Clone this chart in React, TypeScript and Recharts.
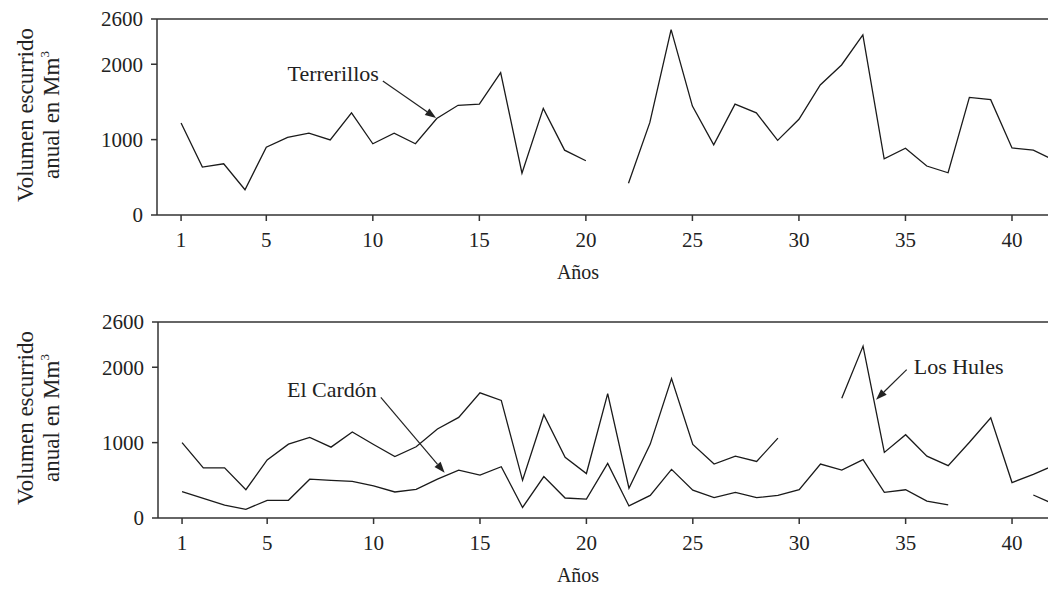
import React from "react";
import { LineChart, Line, XAxis, YAxis, ReferenceLine } from "recharts";

// Años (eje x)
const years = [
  1, 2, 3, 4, 5, 6, 7, 8, 9, 10, 11, 12, 13, 14, 15, 16, 17, 18, 19, 20, 21,
  22, 23, 24, 25, 26, 27, 28, 29, 30, 31, 32, 33, 34, 35, 36, 37, 38, 39, 40, 41, 42,
];

// Volumen escurrido anual (Mm3)
const terrerillos = [
  1220, 635, 680, 335, 900, 1030, 1085, 995, 1355, 945, 1085, 945, 1280, 1455, 1470, 1890,
  555, 1415, 860, 720, null, 420, 1225, 2460, 1445, 930, 1470, 1355, 990, 1270, 1725, 1990,
  2390, 745, 885, 650, 560, 1560, 1530, 890, 860, 725,
];
const losHules = [
  1000, 665, 665, 375, 770, 980, 1070, 940, 1140, 975, 815, 945, 1180, 1335, 1660, 1560,
  500, 1370, 805, 590, 1650, 395, 980, 1850, 975, 715, 820, 750, 1060, null, null, 1590,
  2280, 870, 1105, 820, 695, 1005, 1330, 470, 580, 700,
];
const elCardon = [
  350, 260, 170, 115, 235, 235, 515, 500, 485, 425, 345, 380, 515, 635, 570, 680, 140, 550,
  265, 250, 725, 160, 300, 645, 370, 270, 340, 270, 300, 375, 715, 635, 775, 340, 375, 225,
  175, null, null, null, 305, 180,
];

const xTicks = [1, 5, 10, 15, 20, 25, 30, 35, 40];
const yTicks = [0, 1000, 2000, 2600];

const topData = years.map((year, i) => ({ year, terrerillos: terrerillos[i] }));
const bottomData = years.map((year, i) => ({
  year,
  losHules: losHules[i],
  elCardon: elCardon[i],
}));

const FONT = "'Liberation Serif', 'DejaVu Serif', serif";
const INK = "#222";
const X_DOMAIN = [-0.13, 41.69];

// flecha con texto para las anotaciones
const arrowShape =
  (text: string, side: "left" | "right") =>
  (props: any) => {
    const { x1, y1, x2, y2 } = props;
    const ang = Math.atan2(y2 - y1, x2 - x1);
    const len = 11;
    const half = 4;
    const bx = x2 - len * Math.cos(ang);
    const by = y2 - len * Math.sin(ang);
    const p1 = `${bx + half * Math.sin(ang)},${by - half * Math.cos(ang)}`;
    const p2 = `${bx - half * Math.sin(ang)},${by + half * Math.cos(ang)}`;
    return (
      <g>
        <line x1={x1} y1={y1} x2={bx} y2={by} stroke={INK} strokeWidth={1.2} />
        <polygon points={`${x2},${y2} ${p1} ${p2}`} fill={INK} />
        <text
          x={side === "left" ? x1 - 4 : x1 + 7}
          y={side === "left" ? y1 : y1 + 4}
          textAnchor={side === "left" ? "end" : "start"}
          fontFamily={FONT}
          fontSize={22}
          fill={INK}
        >
          {text}
        </text>
      </g>
    );
  };

const yLabel = (p: any) => {
  const vb = p.viewBox;
  const cy = vb.y + vb.height / 2 - 2;
  return (
    <g fontFamily={FONT} fontSize={23} fill={INK}>
      <text x={33} y={cy} textAnchor="middle" transform={`rotate(-90, 33, ${cy})`}>
        Volumen escurrido
      </text>
      <text x={59} y={cy} textAnchor="middle" transform={`rotate(-90, 59, ${cy})`}>
        anual en Mm
        <tspan fontSize={13} dy={-10}>
          3
        </tspan>
      </text>
    </g>
  );
};

const xLabel = (p: any) => {
  const vb = p.viewBox;
  return (
    <text
      x={578}
      y={vb.y + 64}
      textAnchor="middle"
      fontFamily={FONT}
      fontSize={20}
      fill={INK}
    >
      Años
    </text>
  );
};

const axisStyle = { stroke: "#333", strokeWidth: 1.5 };
const tickStyle = { fontFamily: FONT, fontSize: 21, fill: INK };

const Panel = ({
  data,
  height,
  top,
  xAxisHeight,
  yAxisWidth,
  children,
}: any) => (
  <LineChart
    width={1048}
    height={height}
    data={data}
    margin={{ top, right: 0, bottom: 0, left: 0 }}
  >
    <XAxis
      dataKey="year"
      type="number"
      domain={X_DOMAIN}
      allowDataOverflow
      ticks={xTicks}
      interval={0}
      height={xAxisHeight}
      axisLine={axisStyle}
      tickLine={axisStyle}
      tickSize={6}
      tickMargin={11}
      tick={tickStyle}
      label={{ content: xLabel }}
    />
    <YAxis
      type="number"
      domain={[0, 2600]}
      ticks={yTicks}
      interval={0}
      width={yAxisWidth}
      axisLine={axisStyle}
      tickLine={axisStyle}
      tickSize={6}
      tickMargin={8}
      tick={tickStyle}
      label={{ content: yLabel }}
    />
    <ReferenceLine y={2600} stroke="#333" strokeWidth={1.5} />
    {children}
  </LineChart>
);

export default function App() {
  return (
    <div
      style={{
        position: "absolute",
        left: 0,
        top: 0,
        width: 1048,
        height: 589,
        overflow: "hidden",
        background: "#fff",
      }}
    >
      <Panel data={topData} height={300} top={19} xAxisHeight={85} yAxisWidth={157}>
        <Line
          type="linear"
          dataKey="terrerillos"
          stroke="#1a1a1a"
          strokeWidth={1.3}
          dot={false}
          connectNulls={false}
          isAnimationActive={false}
        />
        <ReferenceLine
          segment={[
            { x: 10.47, y: 1778 },
            { x: 12.97, y: 1287 },
          ]}
          shape={arrowShape("Terrerillos", "left")}
        />
      </Panel>
      <Panel data={bottomData} height={289} top={22} xAxisHeight={71} yAxisWidth={158}>
        <Line
          type="linear"
          dataKey="losHules"
          stroke="#1a1a1a"
          strokeWidth={1.3}
          dot={false}
          connectNulls={false}
          isAnimationActive={false}
        />
        <Line
          type="linear"
          dataKey="elCardon"
          stroke="#1a1a1a"
          strokeWidth={1.3}
          dot={false}
          connectNulls={false}
          isAnimationActive={false}
        />
        <ReferenceLine
          segment={[
            { x: 10.34, y: 1600 },
            { x: 13.34, y: 600 },
          ]}
          shape={arrowShape("El Cardón", "left")}
        />
        <ReferenceLine
          segment={[
            { x: 35.05, y: 1969 },
            { x: 33.61, y: 1569 },
          ]}
          shape={arrowShape("Los Hules", "right")}
        />
      </Panel>
    </div>
  );
}
